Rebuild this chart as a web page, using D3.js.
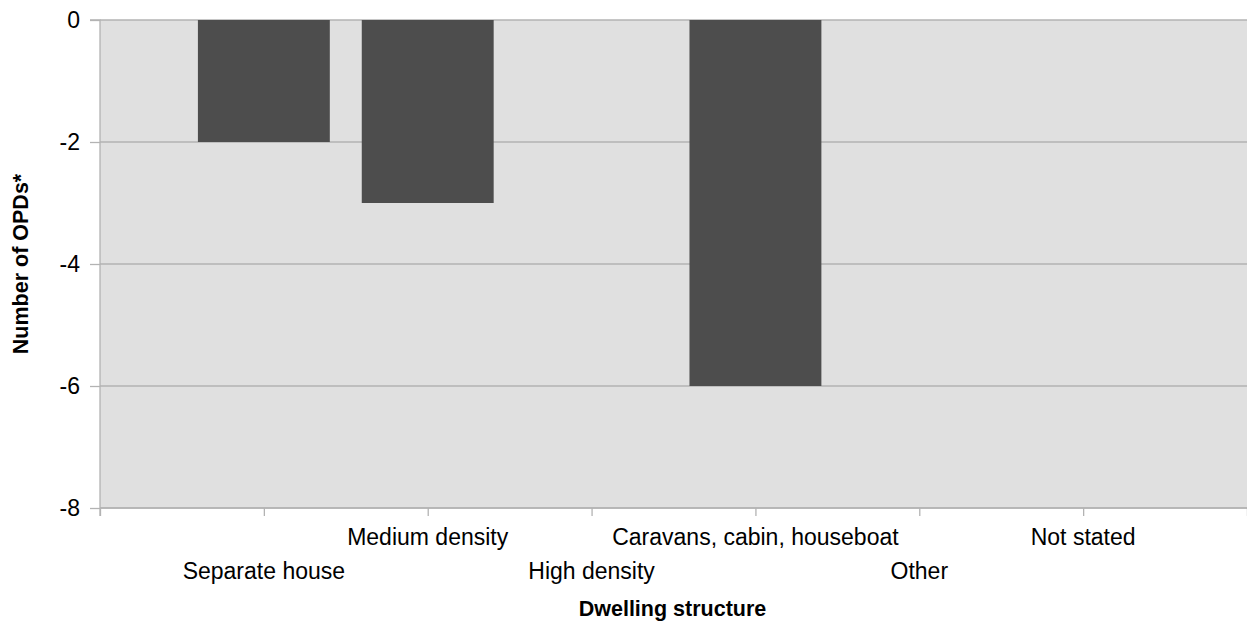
<!DOCTYPE html>
<html><head><meta charset="utf-8">
<script src="https://cdn.jsdelivr.net/npm/d3@7"></script>
<style>body{margin:0;background:#fff}svg{display:block}text{font-family:"Liberation Sans",Arial,sans-serif}</style>
</head><body><svg id="c" width="1247" height="623"></svg>
<script>
const categories = ["Separate house","Medium density","High density","Caravans, cabin, houseboat","Other","Not stated"];
const values = [-2,-3,0,-6,0,0];
const yTicks = [0,-2,-4,-6,-8];

const svg = d3.select("#c");
const L = 100, R = 1247, T = 20, B = 508;
const x = d3.scaleLinear().domain([0, categories.length + 1]).range([L, R]);
const y = d3.scaleLinear().domain([0, -8]).range([T, B]);
const step = x(1) - x(0);
const bw = step * 0.805;

svg.append("rect").attr("x", L).attr("y", T).attr("width", R - L).attr("height", B - T).attr("fill", "#e0e0e0");

// grid
svg.append("g").selectAll("line").data(yTicks).join("line")
  .attr("x1", L).attr("x2", R).attr("y1", d => y(d)).attr("y2", d => y(d))
  .attr("stroke", "#b3b3b3").attr("stroke-width", 1.3);

// bars
svg.append("g").selectAll("rect").data(categories).join("rect")
  .attr("x", (d, i) => x(i + 1) - bw / 2)
  .attr("y", (d, i) => y(Math.max(0, values[i])))
  .attr("width", bw)
  .attr("height", (d, i) => Math.abs(y(values[i]) - y(0)))
  .attr("fill", "#4d4d4d");

// y axis
const ya = svg.append("g").attr("transform", `translate(${L},0)`)
  .call(d3.axisLeft(y).tickValues(yTicks).tickSize(10).tickPadding(10).tickFormat(d => d === 0 ? "0" : "-" + Math.abs(d)));
ya.select(".domain").attr("stroke", "#b3b3b3").attr("stroke-width", 1.3).attr("d", `M-10,${T}H0V${B + 8}`);
ya.selectAll(".tick line").attr("stroke", "#b3b3b3").attr("stroke-width", 1.3);
ya.selectAll(".tick text").attr("font-size", 23).attr("fill", "#000").attr("font-family", "Liberation Sans, Arial, sans-serif").attr("dy", "0.34em");

// x axis
const xa = svg.append("g").attr("transform", `translate(0,${B})`)
  .call(d3.axisBottom(x).tickValues(d3.range(0, categories.length + 2)).tickSize(8).tickFormat(""));
xa.select(".domain").attr("stroke", "#b3b3b3").attr("stroke-width", 1.3).attr("d", `M${L},0H${R}`);
xa.selectAll(".tick line").attr("stroke", "#b3b3b3").attr("stroke-width", 1.3);

// category labels staggered
svg.append("g").selectAll("text").data(categories).join("text")
  .attr("x", (d, i) => x(i + 1))
  .attr("y", (d, i) => i % 2 === 0 ? 579 : 545)
  .attr("text-anchor", "middle").attr("font-size", 23).attr("fill", "#000")
  .text(d => d);

svg.append("text").attr("x", (L + R) / 2 - 1).attr("y", 616).attr("text-anchor", "middle")
  .attr("font-size", 21.5).attr("font-weight", "bold").text("Dwelling structure");
svg.append("text").attr("transform", `translate(28,${(T + B) / 2}) rotate(-90)`).attr("text-anchor", "middle")
  .attr("font-size", 21.5).attr("font-weight", "bold").text("Number of OPDs*");
</script></body></html>
